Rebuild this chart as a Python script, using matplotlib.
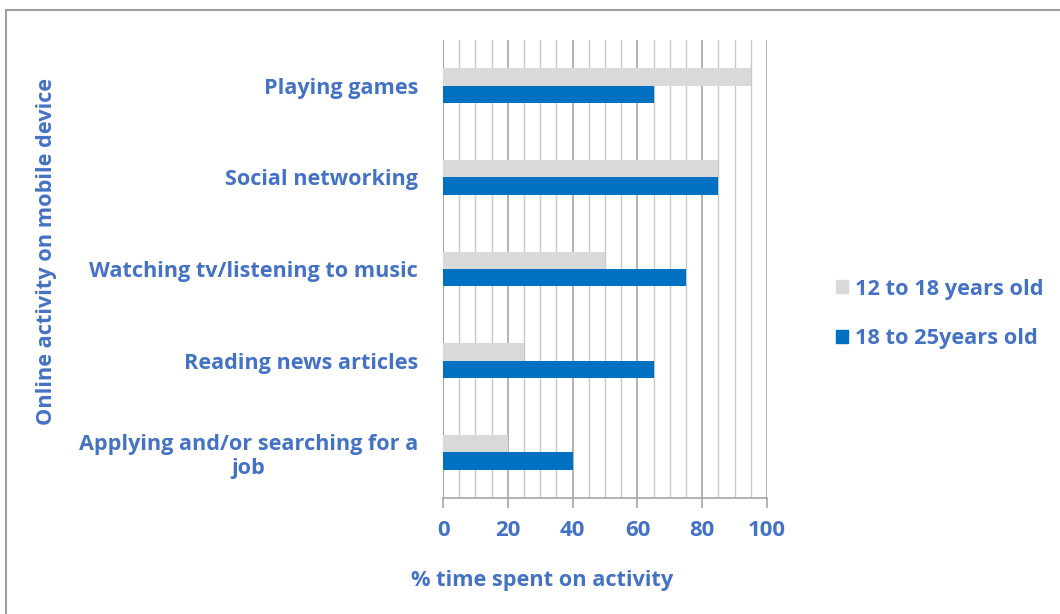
import matplotlib.pyplot as plt
import numpy as np
from matplotlib.patches import Patch
from matplotlib.lines import Line2D
from matplotlib import font_manager as fm

activities = ["Playing games", "Social networking", "Watching tv/listening to music",
              "Reading news articles", "Applying and/or searching for a\njob"]
teens = [95, 85, 50, 25, 20]
young_adults = [65, 85, 75, 65, 40]
series_names = ["12 to 18 years old", "18 to 25years old"]

txt = "#4472C4"

# locate a real bold face file
bold_file = None
for fam in ['Noto Sans', 'Open Sans', 'Liberation Sans']:
    for fe in fm.fontManager.ttflist:
        if fe.name == fam and fe.style == 'normal' and fe.weight == 700:
            bold_file = fe.fname
            break
    if bold_file:
        break


def fp(size):
    if bold_file:
        return fm.FontProperties(fname=bold_file, size=size)
    return fm.FontProperties(family='DejaVu Sans', weight='bold', size=size)


fig = plt.figure(figsize=(10.6, 6.14), dpi=100)
ax = fig.add_axes([0.418, 0.189, 0.3056, 0.746])

y = np.arange(len(activities))[::-1]
h = 0.19
ax.barh(y + h / 2, teens, height=h, color="#D9D9D9", zorder=3)
ax.barh(y - h / 2, young_adults, height=h, color="#0070C0", zorder=3)

ax.set_xlim(0, 100)
ax.set_ylim(-0.5, len(activities) - 0.5)
ax.set_xticks(np.arange(0, 101, 20))
ax.set_xticks(np.arange(0, 101, 5), minor=True)
ax.grid(axis='x', which='major', color="#A6A6A6", lw=1.2, zorder=0)
ax.grid(axis='x', which='minor', color="#C8C8C8", lw=1.0, zorder=0)
ax.tick_params(axis='x', which='major', length=7, color="#A6A6A6", width=1.2,
               labelcolor=txt, pad=9)
ax.tick_params(axis='x', which='minor', length=0)
for t in ax.get_xticklabels():
    t.set_fontproperties(fp(16))
ax.set_yticks(y)
ax.set_yticklabels(activities, color=txt, multialignment='center')
for t in ax.get_yticklabels():
    t.set_fontproperties(fp(15.6))
ax.tick_params(axis='y', length=0, pad=18)
for s in ['top', 'right']:
    ax.spines[s].set_visible(False)
ax.spines['bottom'].set_color("#A6A6A6")
ax.spines['left'].set_color("#A6A6A6")
ax.spines['bottom'].set_linewidth(1.2)

fig.text(0.511, 0.055, "% time spent on activity", color=txt, fontproperties=fp(15.7),
         ha='center', va='center')
fig.text(0.044, 0.59, "Online activity on mobile device", color=txt, fontproperties=fp(15.7),
         rotation=90, ha='center', va='center')

handles = [Patch(color="#D9D9D9"), Patch(color="#0070C0")]
fig.legend(handles, series_names, loc='center left', bbox_to_anchor=(0.77, 0.489),
           frameon=False, prop=fp(15.7), labelcolor=txt,
           handlelength=0.55, handleheight=0.55, handletextpad=0.35, labelspacing=1.3)

# outer chart border (left and top visible)
fig.add_artist(Line2D([0.006, 0.006], [0, 0.984], color="#A0A0A0", lw=1.5,
                      transform=fig.transFigure))
fig.add_artist(Line2D([0.006, 1.0], [0.984, 0.984], color="#A0A0A0", lw=1.5,
                      transform=fig.transFigure))

fig.savefig("out.png", dpi=100)
